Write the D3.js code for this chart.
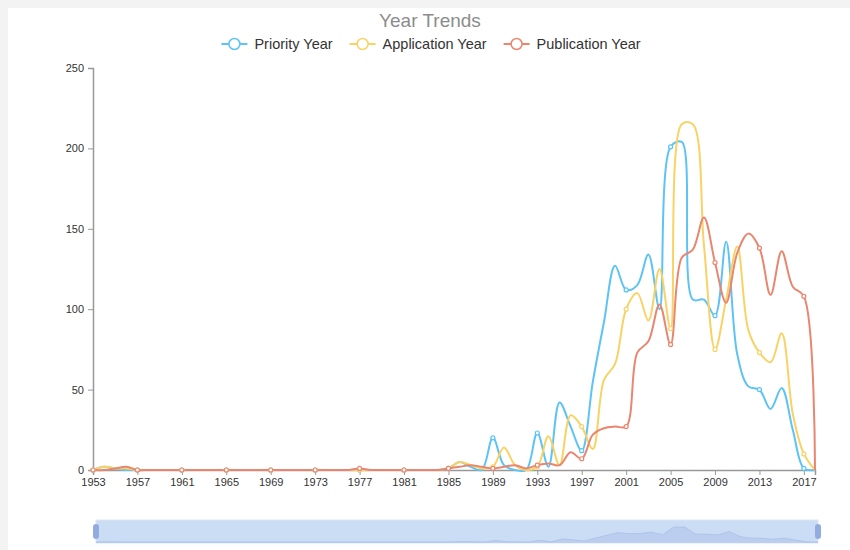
<!DOCTYPE html>
<html>
<head>
<meta charset="utf-8">
<script src="https://cdn.jsdelivr.net/npm/d3@7/dist/d3.min.js"></script>
<style>
  html, body { margin: 0; padding: 0; background: #f3f3f3; }
  svg { display: block; font-family: "Liberation Sans", Arial, sans-serif; }
</style>
</head>
<body>
<svg id="chart" width="850" height="550"></svg>
<script>
// categories: one per year
const years = d3.range(1953, 2019).map(String)
const tickYears = years.filter((d, i) => i % 4 === 0)

const seriesNames = ['Priority Year', 'Application Year', 'Publication Year']
const seriesColors = ['#5dc3f5', '#f9d266', '#e8866f']

const priorityYear = [
  0, 2, 1, 0, 0, 0, 0, 0, 0, 0,
  0, 0, 0, 0, 0, 0, 0, 0, 0, 0,
  0, 0, 0, 0, 0, 0, 0, 0, 0, 0,
  0, 0, 1, 5, 2, 0, 20, 3, 0, 0,
  23, 2, 42, 27, 12, 55, 92, 127, 112, 115,
  134, 100, 201, 204, 106, 106, 96, 142, 72, 52,
  50, 38, 51, 25, 1, 0
]
const applicationYear = [
  0, 2, 1, 1, 0, 0, 0, 0, 0, 0,
  0, 0, 0, 0, 0, 0, 0, 0, 0, 0,
  0, 0, 0, 0, 0, 0, 0, 0, 0, 0,
  0, 0, 1, 5, 3, 1, 2, 14, 3, 0,
  2, 21, 3, 34, 27, 13, 56, 66, 100, 110,
  93, 125, 88, 215, 215, 140, 75, 106, 139, 87,
  73, 67, 85, 35, 10, 0
]
const publicationYear = [
  0, 0, 1, 2, 0, 0, 0, 0, 0, 0,
  0, 0, 0, 0, 0, 0, 0, 0, 0, 0,
  0, 0, 0, 0, 1, 0, 0, 0, 0, 0,
  0, 0, 1, 2, 3, 2, 1, 2, 3, 1,
  3, 4, 3, 11, 7, 22, 26, 27, 27, 73,
  80, 103, 78, 132, 137, 157, 129, 104, 135, 147,
  138, 109, 136, 114, 108, 0
]
const yTicks = [0, 50, 100, 150, 200, 250]

const allSeries = [priorityYear, applicationYear, publicationYear]

const width = 850
const height = 550
const plot = { left: 93, right: 815, top: 68, bottom: 470 }

const svg = d3.select('#chart')

// card background
svg.append('rect')
  .attr('x', 8).attr('y', 8)
  .attr('width', width - 8).attr('height', height - 8)
  .attr('fill', '#fff')

const x = d3.scalePoint()
  .domain(years)
  .range([plot.left, plot.right])

const y = d3.scaleLinear()
  .domain([0, 250])
  .range([plot.bottom, plot.top])

// title
svg.append('text')
  .attr('x', 430).attr('y', 27)
  .attr('text-anchor', 'middle')
  .attr('font-size', 19)
  .attr('fill', '#8c8c8c')
  .text('Year Trends')

// legend
const legend = svg.append('g').attr('class', 'legend')
let lx = 0
const items = []
seriesNames.forEach(function(name, i) {
  const g = legend.append('g')
  g.append('line')
    .attr('x1', 0).attr('x2', 26)
    .attr('y1', 0).attr('y2', 0)
    .attr('stroke', seriesColors[i])
    .attr('stroke-width', 2)
  g.append('circle')
    .attr('cx', 13).attr('cy', 0).attr('r', 5.5)
    .attr('fill', '#fff')
    .attr('stroke', seriesColors[i])
    .attr('stroke-width', 1.5)
  const t = g.append('text')
    .attr('x', 33).attr('y', 5)
    .attr('font-size', 14.5)
    .attr('fill', '#333')
    .text(name)
  const w = 33 + t.node().getComputedTextLength()
  items.push({ g: g, x: lx })
  lx += w + 17
})
const legendW = lx - 17
items.forEach(function(it) {
  it.g.attr('transform', 'translate(' + (431 - legendW / 2 + it.x) + ',44)')
})

// axes
const yAxis = svg.append('g')
  .attr('transform', 'translate(' + plot.left + ',0)')
  .call(d3.axisLeft(y).tickValues(yTicks).tickSize(5).tickPadding(4))
const xAxis = svg.append('g')
  .attr('transform', 'translate(0,' + plot.bottom + ')')
  .call(d3.axisBottom(x).tickValues(tickYears).tickSize(5).tickPadding(3))

;[xAxis, yAxis].forEach(function(a) {
  a.select('.domain').attr('stroke', '#999').attr('stroke-width', 1.5)
  a.selectAll('.tick line').attr('stroke', '#999')
  a.selectAll('.tick text')
    .attr('fill', '#333')
    .attr('font-size', 11)
    .attr('font-family', '"Liberation Sans", Arial, sans-serif')
})

// lines
const line = d3.line()
  .x(function(d, i) { return x(years[i]) })
  .y(function(d) { return y(d) })
  .curve(d3.curveCatmullRom.alpha(0.5))

const lines = svg.append('g').attr('class', 'lines')
allSeries.forEach(function(values, s) {
  lines.append('path')
    .datum(values)
    .attr('d', line)
    .attr('fill', 'none')
    .attr('stroke', seriesColors[s])
    .attr('stroke-width', 2)
    .attr('stroke-linejoin', 'round')
})

// sampled symbols
allSeries.forEach(function(values, s) {
  lines.append('g')
    .selectAll('circle')
    .data(values.map(function(v, i) { return { v: v, i: i } }).filter(function(d) { return d.i % 4 === 0 }))
    .enter().append('circle')
    .attr('cx', function(d) { return x(years[d.i]) })
    .attr('cy', function(d) { return y(d.v) })
    .attr('r', 2)
    .attr('fill', '#fff')
    .attr('stroke', seriesColors[s])
    .attr('stroke-width', 1.2)
})

// data zoom slider
const slider = { left: 96, right: 818, top: 520, bottom: 543 }
const sx = d3.scalePoint().domain(years).range([slider.left, slider.right])
const sy = d3.scaleLinear().domain([0, d3.max(priorityYear)]).range([slider.bottom - 1, slider.top + 7])

const zoomG = svg.append('g').attr('class', 'datazoom')
zoomG.append('rect')
  .attr('x', slider.left).attr('y', slider.top)
  .attr('width', slider.right - slider.left)
  .attr('height', slider.bottom - slider.top)
  .attr('fill', '#cbdcf5')
  .attr('stroke', '#dde6f5')

const shadow = d3.area()
  .x(function(d, i) { return sx(years[i]) })
  .y0(slider.bottom)
  .y1(function(d) { return sy(d) })

zoomG.append('path')
  .datum(priorityYear)
  .attr('d', shadow)
  .attr('fill', '#b6cbee')
  .attr('opacity', 0.8)

zoomG.append('path')
  .datum(priorityYear)
  .attr('d', d3.line().x(function(d, i) { return sx(years[i]) }).y(function(d) { return sy(d) }))
  .attr('fill', 'none')
  .attr('stroke', '#aec4ea')
  .attr('stroke-width', 1)

;[slider.left, slider.right].forEach(function(hx) {
  zoomG.append('rect')
    .attr('x', hx - 3).attr('y', slider.top + 4)
    .attr('width', 6).attr('height', 15)
    .attr('rx', 3)
    .attr('fill', '#93acdf')
})
</script>
</body>
</html>
